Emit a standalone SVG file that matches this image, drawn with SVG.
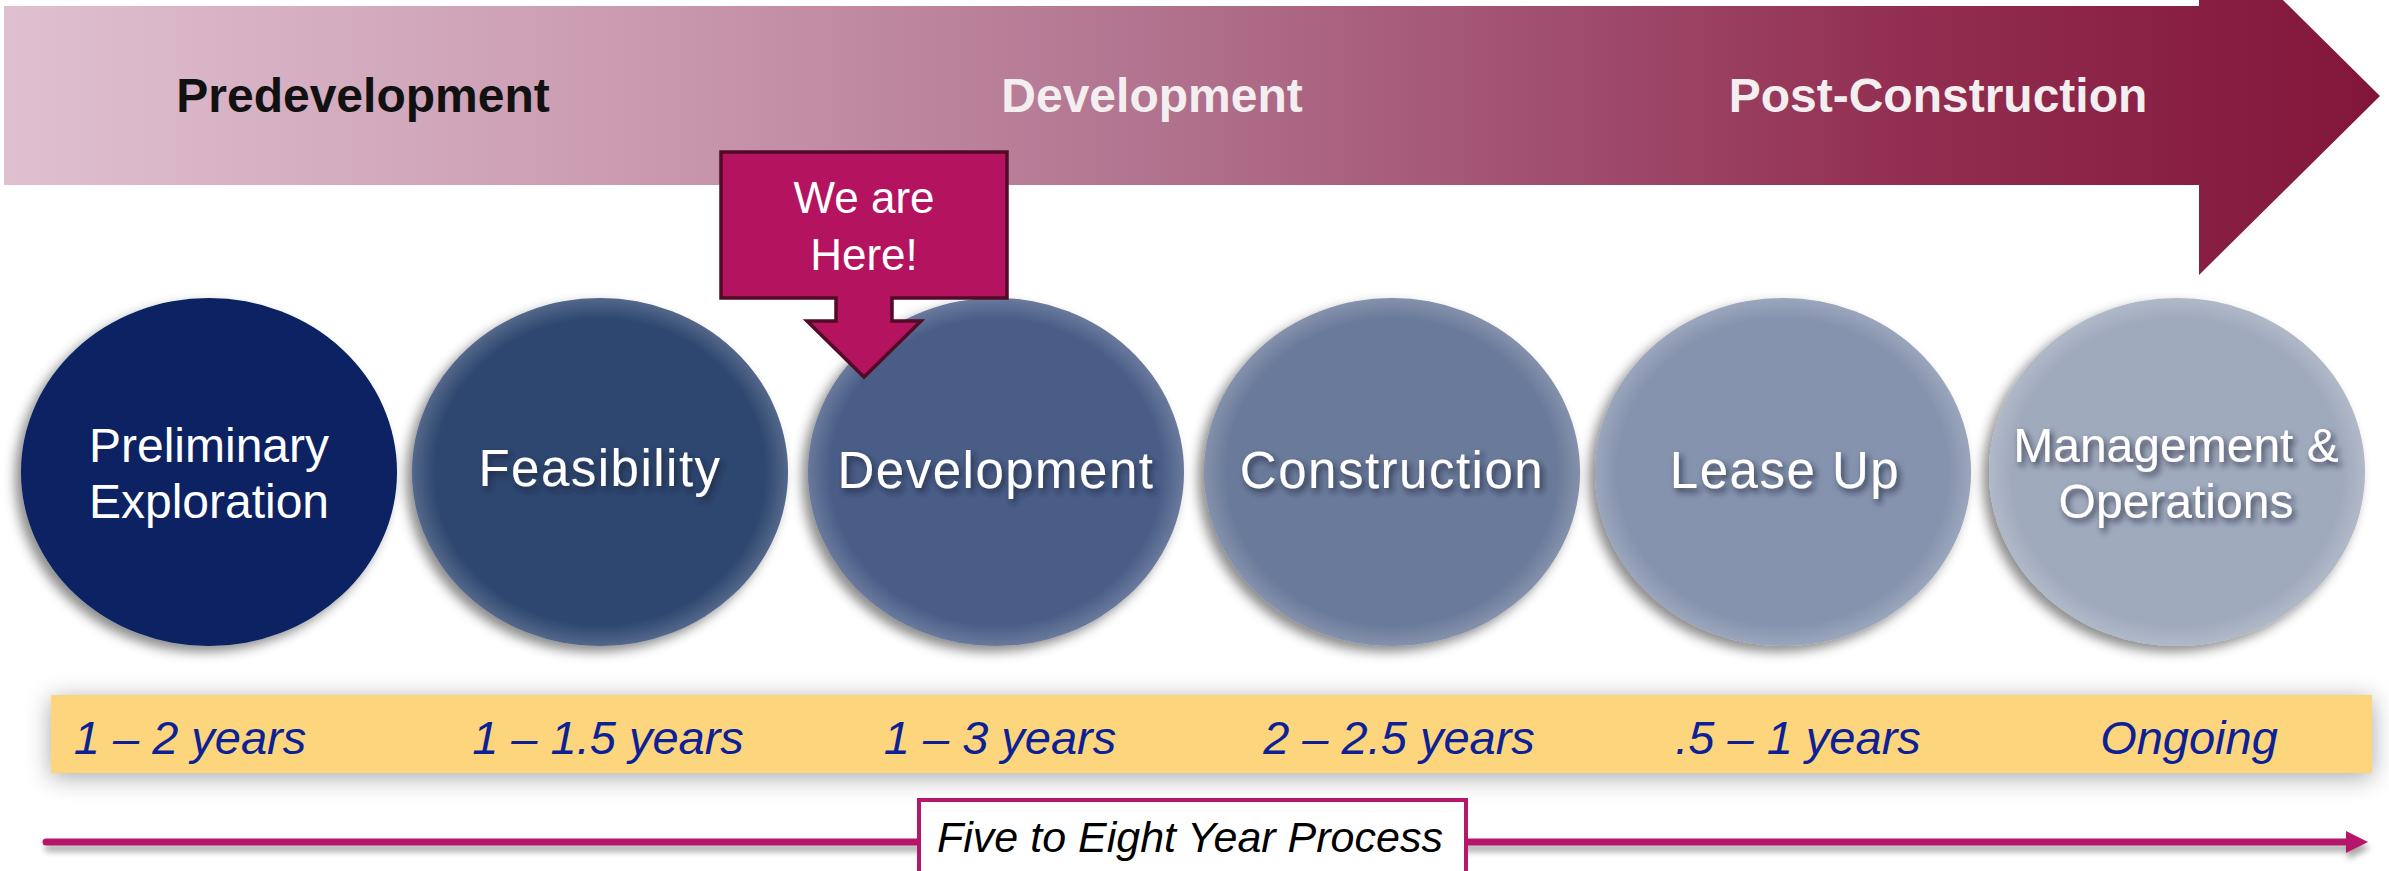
<svg xmlns="http://www.w3.org/2000/svg" width="2389" height="871" viewBox="0 0 2389 871">
<defs>
<linearGradient id="barGrad" gradientUnits="userSpaceOnUse" x1="0" y1="0" x2="2380" y2="0">
<stop offset="0" stop-color="#dfc0d1"/>
<stop offset="0.25" stop-color="#cc9db2"/>
<stop offset="0.48" stop-color="#b27490"/>
<stop offset="0.8" stop-color="#922e51"/>
<stop offset="1" stop-color="#82163a"/>
</linearGradient>
<filter id="circShadow" x="-20%" y="-20%" width="140%" height="140%">
<feDropShadow dx="-6" dy="6" stdDeviation="6" flood-color="#000" flood-opacity="0.45"/>
</filter>
<filter id="txtShadow" x="-10%" y="-30%" width="120%" height="160%">
<feDropShadow dx="3" dy="4" stdDeviation="3" flood-color="#1b2436" flood-opacity="0.75"/>
</filter>
<filter id="bandShadow" x="-5%" y="-80%" width="110%" height="260%">
<feDropShadow dx="0" dy="4" stdDeviation="12" flood-color="#000" flood-opacity="0.35"/>
</filter>
<filter id="lineShadow" filterUnits="userSpaceOnUse" x="0" y="800" width="2389" height="71">
<feDropShadow dx="2" dy="6" stdDeviation="3" flood-color="#000" flood-opacity="0.35"/>
</filter>
<radialGradient id="rim" cx="0.5" cy="0.5" r="0.5">
<stop offset="0.88" stop-color="#ffffff" stop-opacity="0"/>
<stop offset="1" stop-color="#ffffff" stop-opacity="0.18"/>
</radialGradient>
<style>
.phase{font-family:"Liberation Sans",Arial,sans-serif;font-weight:bold;font-size:48px;text-anchor:middle}
.clabel{font-family:"Liberation Sans",Arial,sans-serif;font-size:48px;fill:#ffffff;text-anchor:middle}
.big{font-size:51px;letter-spacing:1.5px}
.yr{font-family:"Liberation Sans",Arial,sans-serif;font-style:italic;font-size:47px;fill:#0c2196;text-anchor:middle}
.circle{filter:url(#circShadow)}
</style>
</defs>
<rect width="2389" height="871" fill="#ffffff"/>

<g id="phase-arrow">
<path d="M4,6 H2199 V-83 L2380,96 L2199,275 V185 H4 Z" fill="url(#barGrad)"/>
<text class="phase" x="363" y="112" fill="#111111">Predevelopment</text>
<text class="phase" x="1152" y="112" fill="#f3eef0">Development</text>
<text class="phase" x="1938" y="112" fill="#f3eef0">Post-Construction</text>
</g>

<g id="node-preliminary">
<ellipse class="circle" cx="209" cy="472" rx="188" ry="174" fill="#072362"/>
<text class="clabel" x="209" y="462">Preliminary</text>
<text class="clabel" x="209" y="518">Exploration</text>
</g>
<g id="node-feasibility">
<ellipse class="circle" cx="600" cy="472" rx="188" ry="174" fill="#2f4670"/>
<ellipse cx="600" cy="472" rx="188" ry="174" fill="url(#rim)"/>
<text class="clabel big" x="600" y="486" filter="url(#txtShadow)">Feasibility</text>
</g>
<g id="node-development">
<ellipse class="circle" cx="996" cy="472" rx="188" ry="174" fill="#4a5d87"/>
<ellipse cx="996" cy="472" rx="188" ry="174" fill="url(#rim)"/>
<text class="clabel big" x="996" y="488" filter="url(#txtShadow)">Development</text>
</g>
<g id="node-construction">
<ellipse class="circle" cx="1392" cy="472" rx="188" ry="174" fill="#6a7a9a"/>
<ellipse cx="1392" cy="472" rx="188" ry="174" fill="url(#rim)"/>
<text class="clabel big" x="1392" y="488" filter="url(#txtShadow)">Construction</text>
</g>
<g id="node-leaseup">
<ellipse class="circle" cx="1783" cy="472" rx="188" ry="174" fill="#8593ae"/>
<ellipse cx="1783" cy="472" rx="188" ry="174" fill="url(#rim)"/>
<text class="clabel big" x="1785" y="488" filter="url(#txtShadow)">Lease Up</text>
</g>
<g id="node-management">
<ellipse class="circle" cx="2177" cy="472" rx="188" ry="174" fill="#a0aabd"/>
<ellipse cx="2177" cy="472" rx="188" ry="174" fill="url(#rim)"/>
<text class="clabel" x="2176" y="462" filter="url(#txtShadow)">Management &amp;</text>
<text class="clabel" x="2176" y="518" filter="url(#txtShadow)">Operations</text>
</g>

<g id="callout-here">
<path d="M721,152 H1007 V298 H892 V321 H921 L864,377 L807,321 H836 V298 H721 Z" fill="#b3135f" stroke="#520a27" stroke-width="3.5" stroke-linejoin="miter"/>
<text class="clabel" x="864" y="213" style="font-size:44px">We are</text>
<text class="clabel" x="864" y="270" style="font-size:44px">Here!</text>
</g>

<g id="durations">
<rect x="51" y="695" width="2321" height="78" fill="#fdd57d" filter="url(#bandShadow)"/>
<text class="yr" x="190" y="754">1 – 2 years</text>
<text class="yr" x="608" y="754">1 – 1.5 years</text>
<text class="yr" x="1000" y="754">1 – 3 years</text>
<text class="yr" x="1399" y="754">2 – 2.5 years</text>
<text class="yr" x="1798" y="754">.5 – 1 years</text>
<text class="yr" x="2189" y="754">Ongoing</text>
</g>

<g id="connectors" filter="url(#lineShadow)">
<path d="M46,842 H2350" stroke="#b5176a" stroke-width="7" stroke-linecap="round" fill="none"/>
<path d="M2346,831 L2368,842 L2346,853 Z" fill="#b5176a"/>
</g>

<g id="node-process">
<rect x="919" y="800" width="547" height="90" fill="#ffffff" stroke="#b5176a" stroke-width="4"/>
<text x="1190" y="852" font-family="'Liberation Sans', Arial, sans-serif" font-style="italic" font-size="43" fill="#000000" text-anchor="middle">Five to Eight Year Process</text>
</g>
</svg>
